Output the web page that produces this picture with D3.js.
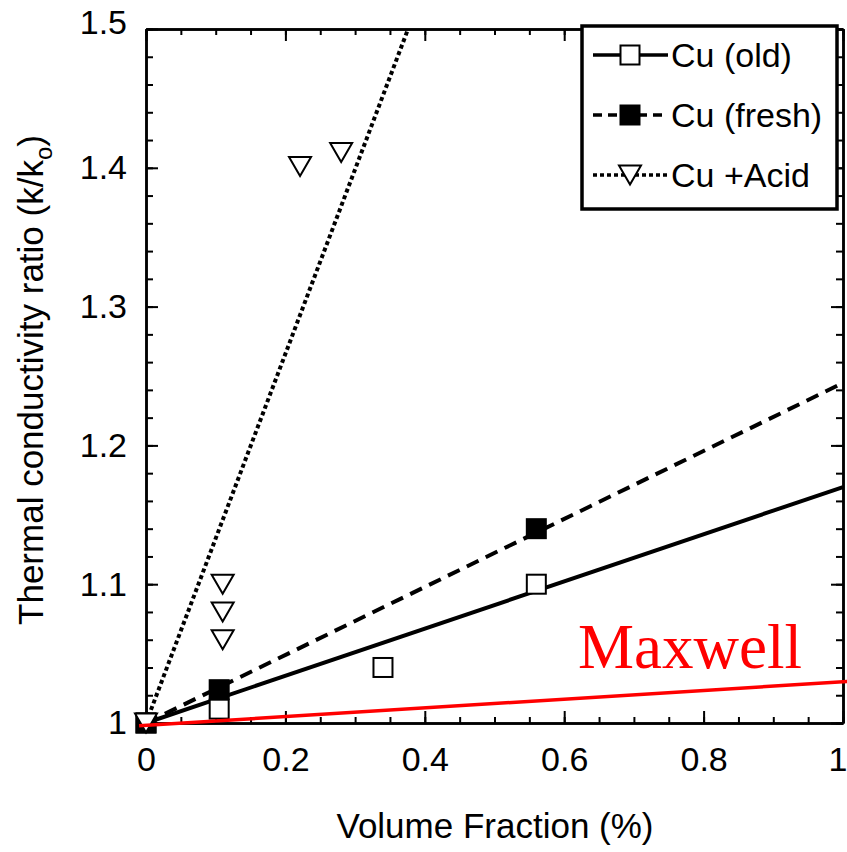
<!DOCTYPE html>
<html><head><meta charset="utf-8">
<script src="https://cdn.jsdelivr.net/npm/d3@7"></script>
<style>body{margin:0;background:#fff}svg{display:block}</style>
</head><body>
<script>
// ---- data ----
const oldX = [0, 0.105, 0.34, 0.56];
const oldY = [1.0, 1.01, 1.04, 1.10];
const freshX = [0, 0.105, 0.56];
const freshY = [1.0, 1.024, 1.14];
const acidX = [0, 0.11, 0.11, 0.11, 0.221, 0.28];
const acidY = [1.0, 1.10, 1.08, 1.06, 1.401, 1.411];
const oldFit = [[0, 1.0], [1, 1.17]];
const freshFit = [[0, 1.0], [1, 1.245]];
const acidFit = [[0, 1.0], [0.376, 1.5]];
const maxwellFit = [[-0.01, 0.998], [1.01, 1.03]];
const xTicks = [0, 0.2, 0.4, 0.6, 0.8, 1];
const yTicks = [1, 1.1, 1.2, 1.3, 1.4, 1.5];
const legendLabels = ["Cu (old)", "Cu (fresh)", "Cu +Acid"];

const W = 847, H = 852;
const L = 146, R = 843, T = 29, B = 723;
const svg = d3.select("body").append("svg").attr("width", W).attr("height", H);
const x = d3.scaleLinear().domain([0, 1]).range([L, R]);
const y = d3.scaleLinear().domain([1, 1.5]).range([B, T]);
const font = "Liberation Sans, Arial, Helvetica, sans-serif";

svg.append("defs").append("clipPath").attr("id", "clip")
  .append("rect").attr("x", L - 8).attr("y", T).attr("width", R - L + 12).attr("height", B - T + 8);

const fmt = d => d === 0 ? "0" : d === 1 ? "1" : d3.format(".1f")(d);
function styleAxis(g) {
  g.selectAll("path.domain").attr("stroke", "#000").attr("stroke-width", 2.5);
  g.selectAll(".tick line").attr("stroke", "#000").attr("stroke-width", 2);
}
const minorX = d3.range(0, 1.0001, 0.05);
const minorY = d3.range(1, 1.5001, 0.02);
// bottom
const gb = svg.append("g").attr("transform", `translate(0,${B})`);
gb.call(d3.axisBottom(x).tickValues(minorX).tickSize(-6).tickFormat("").tickSizeOuter(0));
styleAxis(gb);
const gb2 = svg.append("g").attr("transform", `translate(0,${B})`);
gb2.call(d3.axisBottom(x).tickValues(xTicks).tickSize(-12).tickFormat(fmt).tickSizeOuter(0).tickPadding(24));
styleAxis(gb2);
gb2.selectAll("text").attr("font-family", font).attr("font-size", 34).attr("fill", "#000").attr("dy", "0.71em");
gb2.selectAll("text").filter(d => d === 1).attr("text-anchor", "end").attr("dx", 4);
// top
const gt = svg.append("g").attr("transform", `translate(0,${T})`);
gt.call(d3.axisTop(x).tickValues(minorX).tickSize(-6).tickFormat("").tickSizeOuter(0));
styleAxis(gt);
const gt2 = svg.append("g").attr("transform", `translate(0,${T})`);
gt2.call(d3.axisTop(x).tickValues(xTicks).tickSize(-12).tickFormat("").tickSizeOuter(0));
styleAxis(gt2);
// left
const gl = svg.append("g").attr("transform", `translate(${L},0)`);
gl.call(d3.axisLeft(y).tickValues(minorY).tickSize(-7).tickFormat("").tickSizeOuter(0));
styleAxis(gl);
const gl2 = svg.append("g").attr("transform", `translate(${L},0)`);
gl2.call(d3.axisLeft(y).tickValues(yTicks).tickSize(-12).tickFormat(d => d === 1 ? "1" : d3.format(".1f")(d)).tickSizeOuter(0).tickPadding(19));
styleAxis(gl2);
gl2.selectAll("text").attr("font-family", font).attr("font-size", 34).attr("fill", "#000");
gl2.selectAll("text").filter(d => d === 1.5).attr("dy", "0.12em");
// right
const gr = svg.append("g").attr("transform", `translate(${R},0)`);
gr.call(d3.axisRight(y).tickValues(minorY).tickSize(-7).tickFormat("").tickSizeOuter(0));
styleAxis(gr);
const gr2 = svg.append("g").attr("transform", `translate(${R},0)`);
gr2.call(d3.axisRight(y).tickValues(yTicks).tickSize(-12).tickFormat("").tickSizeOuter(0));
styleAxis(gr2);

// axis labels
svg.append("text").attr("x", 495).attr("y", 838).attr("text-anchor", "middle")
  .attr("font-family", font).attr("font-size", 35).text("Volume Fraction (%)");
const yl = svg.append("text").attr("transform", "translate(43,380) rotate(-90)").attr("text-anchor", "middle")
  .attr("font-family", font).attr("font-size", 35);
yl.append("tspan").text("Thermal conductivity ratio (k/k");
yl.append("tspan").attr("font-size", 24).attr("dy", 9).text("o");
yl.append("tspan").attr("dy", -9).text(")");

// fit lines
const line = d3.line().x(d => x(d[0])).y(d => y(d[1]));
const plot = svg.append("g").attr("clip-path", "url(#clip)");
plot.append("path").datum(oldFit).attr("d", line).attr("fill", "none").attr("stroke", "#000").attr("stroke-width", 4);
plot.append("path").datum(freshFit).attr("d", line).attr("fill", "none").attr("stroke", "#000").attr("stroke-width", 4).attr("stroke-dasharray", "13,8");
plot.append("path").datum(acidFit).attr("d", line).attr("fill", "none").attr("stroke", "#000").attr("stroke-width", 4).attr("stroke-dasharray", "4,3");

// markers
const sq = 19;
function openSquare(g, cx, cy) {
  g.append("rect").attr("x", cx - sq / 2).attr("y", cy - sq / 2).attr("width", sq).attr("height", sq)
    .attr("fill", "#fff").attr("stroke", "#000").attr("stroke-width", 2);
}
function filledSquare(g, cx, cy) {
  g.append("rect").attr("x", cx - sq / 2).attr("y", cy - sq / 2).attr("width", sq).attr("height", sq)
    .attr("fill", "#000").attr("stroke", "#000").attr("stroke-width", 2);
}
function triangle(g, cx, cy) {
  const w = 22, h = 19;
  g.append("path").attr("d", `M${cx - w / 2},${cy - h / 2}L${cx + w / 2},${cy - h / 2}L${cx},${cy + h / 2}Z`)
    .attr("fill", "#fff").attr("stroke", "#000").attr("stroke-width", 2).attr("stroke-linejoin", "miter");
}
const mk = svg.append("g");
oldX.forEach((v, i) => openSquare(mk, x(v), y(oldY[i])));
freshX.forEach((v, i) => filledSquare(mk, x(v), y(freshY[i])));
acidX.forEach((v, i) => triangle(mk, x(v), y(acidY[i])));

// Maxwell
svg.append("path").datum(maxwellFit).attr("d", line).attr("fill", "none").attr("stroke", "#f00").attr("stroke-width", 3.5);
svg.append("text").attr("x", 578).attr("y", 668).attr("font-family", "Liberation Serif, Times New Roman, serif")
  .attr("font-size", 63).attr("fill", "#f00").text("Maxwell");

// legend
const lg = svg.append("g");
lg.append("rect").attr("x", 582).attr("y", 26).attr("width", 255).attr("height", 183)
  .attr("fill", "#fff").attr("stroke", "#000").attr("stroke-width", 3.5);
const rows = [55, 115, 175];
const dashes = [null, "9,6", "4,3"];
const markers = [openSquare, filledSquare, triangle];
legendLabels.forEach((t, i) => {
  const ln = lg.append("line").attr("x1", 593).attr("x2", 668).attr("y1", rows[i]).attr("y2", rows[i])
    .attr("stroke", "#000").attr("stroke-width", 3.5);
  if (dashes[i]) ln.attr("stroke-dasharray", dashes[i]);
  markers[i](lg, 630, rows[i]);
  lg.append("text").attr("x", 671).attr("y", rows[i]).attr("dy", "0.36em")
    .attr("font-family", font).attr("font-size", 34).text(t);
});
</script>
</body></html>
